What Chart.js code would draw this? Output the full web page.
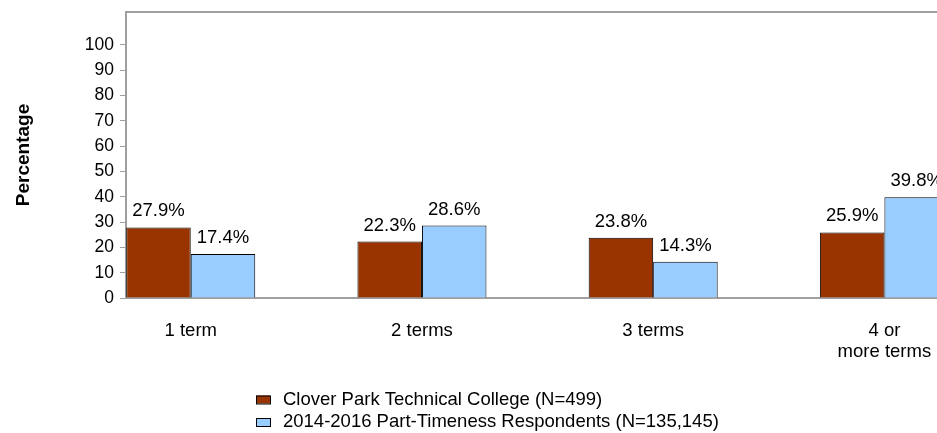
<!DOCTYPE html>
<html><head><meta charset="utf-8">
<script src="https://cdn.jsdelivr.net/npm/chart.js@4/dist/chart.umd.min.js"></script>
<style>
html,body{margin:0;padding:0;overflow:hidden;background:#fff;width:937px;height:433px}
#wrap{position:absolute;left:0;top:0;width:1000px;height:433px}
</style>
</head><body>
<div id="wrap"><canvas id="c" width="1000" height="433"></canvas></div>
<script>
const categories = ['1 term', '2 terms', '3 terms', ['4 or', 'more terms']];
const seriesNames = ['Clover Park Technical College (N=499)', '2014-2016 Part-Timeness Respondents (N=135,145)'];
const cloverPark = [27.9, 22.3, 23.8, 25.9];
const allRespondents = [17.4, 28.6, 14.3, 39.8];
const yTickValues = [0, 10, 20, 30, 40, 50, 60, 70, 80, 90, 100];
const seriesColors = ['#993300', '#99CCFF'];

const FONT = '"Liberation Sans", Arial, sans-serif';
const GRAY = '#9f9f9f';

function toPoints(vals) { return vals.map((v, i) => ({ x: i + 1, y: v })); }

const valueLabels = {
  id: 'valueLabels',
  afterDatasetsDraw(chart) {
    const ctx = chart.ctx;
    ctx.save();
    ctx.font = '18.5px ' + FONT;
    ctx.fillStyle = '#000';
    ctx.textAlign = 'center';
    ctx.textBaseline = 'alphabetic';
    chart.data.datasets.forEach((ds, i) => {
      chart.getDatasetMeta(i).data.forEach((bar, j) => {
        ctx.fillText(ds.data[j].y.toFixed(1) + '%', bar.x, bar.y - 11);
      });
    });
    ctx.restore();
  }
};

const frameTop = {
  id: 'frameTop',
  afterDraw(chart) {
    const ctx = chart.ctx, a = chart.chartArea;
    ctx.save();
    ctx.strokeStyle = GRAY;
    ctx.lineWidth = 2;
    ctx.beginPath();
    ctx.moveTo(a.left - 1, a.top);
    ctx.lineTo(a.right, a.top);
    ctx.stroke();
    ctx.restore();
  }
};

const stackedLegend = {
  id: 'stackedLegend',
  afterDraw(chart) {
    const ctx = chart.ctx;
    ctx.save();
    ctx.font = '18.5px ' + FONT;
    ctx.textBaseline = 'alphabetic';
    ctx.textAlign = 'left';
    chart.data.datasets.forEach((ds, i) => {
      const y0 = 395.5 + i * 22.5;
      ctx.fillStyle = ds.backgroundColor;
      ctx.fillRect(256, y0, 14, 8);
      ctx.strokeStyle = '#000';
      ctx.lineWidth = 1;
      ctx.strokeRect(256.5, y0 + 0.5, 14, 8);
      ctx.fillStyle = '#000';
      ctx.fillText(ds.label, 283, y0 + 9);
    });
    ctx.restore();
  }
};

new Chart(document.getElementById('c'), {
  type: 'bar',
  data: {
    datasets: [
      { label: seriesNames[0], data: toPoints(cloverPark), backgroundColor: seriesColors[0], borderColor: '#000', borderWidth: 1 },
      { label: seriesNames[1], data: toPoints(allRespondents), backgroundColor: seriesColors[1], borderColor: '#000', borderWidth: 1 }
    ]
  },
  options: {
    responsive: false,
    animation: false,
    devicePixelRatio: 1,
    categoryPercentage: 0.558,
    barPercentage: 1,
    layout: { padding: { top: 12, left: 0, right: 0, bottom: 0 } },
    plugins: { legend: { display: false }, tooltip: { enabled: false } },
    scales: {
      x: {
        type: 'linear',
        offset: false,
        min: 0.72,
        max: 4.5,
        afterBuildTicks(scale) { scale.ticks = categories.map((c, i) => ({ value: i + 1 })); },
        afterFit(scale) { scale.height = 135; scale.paddingLeft = 0; scale.paddingRight = 0; },
        ticks: {
          autoSkip: false,
          maxRotation: 0,
          padding: 23,
          color: '#000',
          font: { family: FONT, size: 18.5, lineHeight: 1.12 },
          callback(value) { return categories[Math.round(value) - 1]; }
        },
        grid: { display: false, drawTicks: false, offset: false },
        border: { display: true, color: GRAY, width: 2 }
      },
      y: {
        min: 0,
        max: 113,
        afterBuildTicks(scale) { scale.ticks = yTickValues.map(v => ({ value: v })); },
        afterFit(scale) { scale.width = 126; scale.paddingTop = 0; scale.paddingBottom = 0; },
        ticks: { padding: 6, color: '#000', font: { family: FONT, size: 17.5 } },
        grid: { drawOnChartArea: false, drawTicks: true, tickLength: 6, color: GRAY, lineWidth: 1 },
        border: { display: true, color: GRAY, width: 2 },
        title: {
          display: true,
          text: 'Percentage',
          color: '#000',
          font: { family: FONT, size: 19, weight: 'bold' },
          padding: { top: 12, bottom: 0 }
        }
      }
    }
  },
  plugins: [valueLabels, frameTop, stackedLegend]
});
</script>
</body></html>
